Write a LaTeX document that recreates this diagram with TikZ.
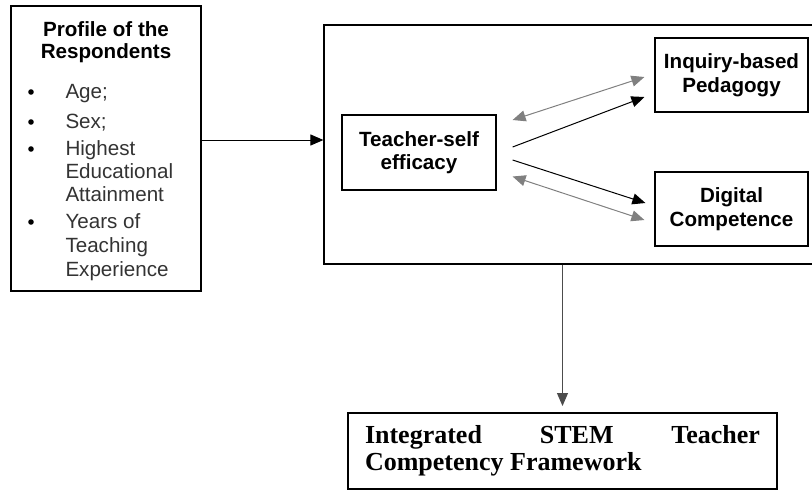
\documentclass[tikz,border=0pt]{standalone}
\usepackage{fontspec}
\setmainfont{Liberation Sans}
\newfontfamily\timesfont{Liberation Serif}
\usetikzlibrary{arrows.meta,calc}

\tikzset{
  box/.style={draw, line width=1.2pt, inner sep=0pt},
  labelfont/.style={font=\fontsize{20.6}{23.5}\selectfont\bfseries},
  itemfont/.style={font=\fontsize{20.6}{23.5}\selectfont},
  tip/.style={-{Triangle[length=13pt,width=11pt]}},
  bitip/.style={{Triangle[length=13pt,width=11pt]}-{Triangle[length=13pt,width=11pt]}}
}

\begin{document}
\begin{tikzpicture}[x=1pt, y=-1pt, line width=1pt]
\clip (0,0) rectangle (812,491);

% The profile box and its contents
\node [box, minimum width=190, minimum height=285] (profile) at (106,148.5) {};
\node [labelfont, anchor=base] (title) at (106,36) {Profile of the};
\node [labelfont, anchor=base] (title2) at (106,58) {Respondents};
\foreach \y/\lab/\dot in {
  98/{Age;}/1,
  128/{Sex;}/1,
  155/{Highest}/1,
  178/{Educational}/0,
  201/{Attainment}/0,
  228/{Years of}/1,
  252/{Teaching}/0,
  276/{Experience}/0} {
  \node [itemfont, anchor=base west, inner sep=0, text=black!80] (item\y) at (65,\y) {\lab};
  \ifnum\dot=1
    \fill (31,\y-6) circle (2.8);
  \fi
}

% The model box with the three constructs
\node [box, minimum width=492, minimum height=239] (model) at (570,144.5) {};
\node [box, labelfont, align=center, minimum width=154, minimum height=75] (teacher) at (419,152.5) {Teacher-self\\efficacy};
\node [box, labelfont, align=center, minimum width=153, minimum height=74] (inquiry) at (731.5,75) {Inquiry-based\\Pedagogy};
\node [box, labelfont, align=center, minimum width=153, minimum height=74] (digital) at (731.5,209) {Digital\\Competence};

% The framework box
\node [box, line width=2pt, minimum width=429, minimum height=76, text width=395, align=justify,
  font=\timesfont\bfseries\fontsize{26}{27}\selectfont] (framework) at (562.5,451)
  {Integrated STEM Teacher \mbox{Competency} Framework};

% Connectors
\draw [tip] ([yshift=8.5pt]profile.east) -- ([yshift=8.5pt]profile.east -| model.west);
\draw [bitip, gray] ([xshift=16pt,yshift=32.5pt]teacher.east) -- ([xshift=-10pt,yshift=-2pt]inquiry.west);
\draw [tip] ([xshift=16pt,yshift=5.5pt]teacher.east) -- ([xshift=-10pt,yshift=-22pt]inquiry.west);
\draw [tip] ([xshift=16pt,yshift=-7.5pt]teacher.east) -- ([xshift=-9pt,yshift=6pt]digital.west);
\draw [bitip, gray] ([xshift=16pt,yshift=-24pt]teacher.east) -- ([xshift=-10pt,yshift=-11pt]digital.west);
\draw [tip, gray!60!black, shorten >=6pt] (framework.north |- model.south) -- (framework.north);
\end{tikzpicture}
\end{document}
